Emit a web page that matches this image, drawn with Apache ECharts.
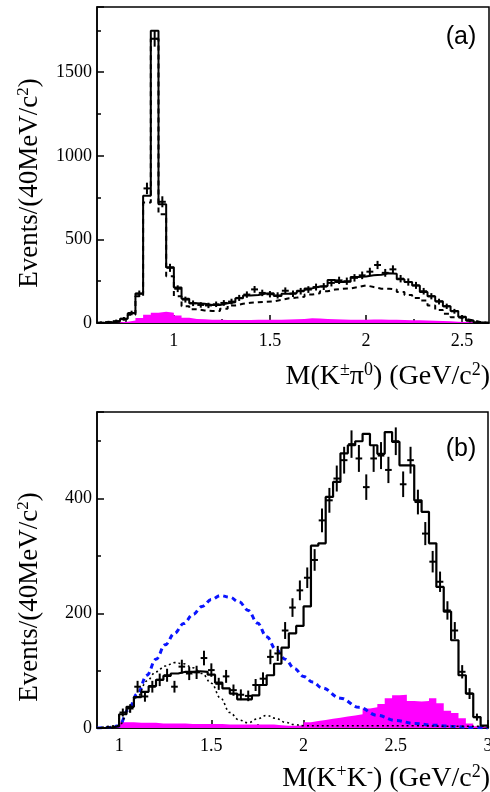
<!DOCTYPE html>
<html>
<head>
<meta charset="utf-8">
<script src="https://cdn.jsdelivr.net/npm/echarts@6.0.0/dist/echarts.min.js"></script>
<style>html,body{margin:0;padding:0;background:#fff}#c{width:490px;height:792px}</style>
</head>
<body>
<div id="c"></div>
<script>
// ---------- Panel (a): M(K± pi0), 40 MeV bins ----------
const centersA = [0.62,0.66,0.70,0.74,0.78,0.82,0.86,0.90,0.94,0.98,
  1.02,1.06,1.10,1.14,1.18,1.22,1.26,1.30,1.34,1.38,
  1.42,1.46,1.50,1.54,1.58,1.62,1.66,1.70,1.74,1.78,
  1.82,1.86,1.90,1.94,1.98,2.02,2.06,2.10,2.14,2.18,
  2.22,2.26,2.30,2.34,2.38,2.42,2.46,2.50,2.54,2.58,2.62];
const histA = [2,5,10,26,58,177,761,1748,710,333,
  212,145,118,115,108,108,118,124,148,165,
  167,176,178,162,175,180,193,207,218,222,
  257,245,247,275,278,285,288,297,295,262,
  245,225,185,160,130,100,72,38,15,3,1];
const dashA = [2,4,9,22,50,160,720,1700,650,280,
  160,100,82,75,72,72,85,105,115,121,
  124,127,130,138,148,152,157,170,178,190,
  200,205,207,215,225,215,205,205,200,185,
  168,150,135,105,78,55,35,25,15,4,0];
const dataA = [2,5,11,25,60,175,805,1700,725,330,
  205,140,118,108,105,112,120,128,150,170,
  201,180,172,165,193,175,190,200,215,218,
  240,255,250,270,285,307,347,300,321,265,
  245,225,190,160,128,100,70,35,14,3,1];
const errA = [1.4,2.2,3.3,5,7.7,13.2,28.4,41.2,26.9,18.2,
  14.3,11.8,10.9,10.4,10.2,10.6,11,11.3,12.2,13,
  14.2,13.4,13.1,12.8,13.9,13.2,13.8,14.1,14.7,14.8,
  15.5,16,15.8,16.4,16.9,17.5,18.6,17.3,17.9,16.3,
  15.7,15,13.8,12.6,11.3,10,8.4,5.9,3.7,1.7,1];
const bkgA = [2,3,5,8,15,30,50,62,68,62,
  45,32,24,22,20,19,18,18,18,18,
  19,19,20,20,21,22,24,28,27,24,
  22,21,20,20,20,21,21,20,19,18,
  17,16,15,14,12,10,8,6,4,2,1];
const xLabelsA = [1,1.5,2,2.5];
const xMinorA = [0.75,1.25,1.75,2.25];

// ---------- Panel (b): M(K+K-), 40 MeV bins ----------
const centersB = [0.90,0.94,0.98,1.02,1.06,1.10,1.14,1.18,1.22,1.26,
  1.30,1.34,1.38,1.42,1.46,1.50,1.54,1.58,1.62,1.66,
  1.70,1.74,1.78,1.82,1.86,1.90,1.94,1.98,2.02,2.06,
  2.10,2.14,2.18,2.22,2.26,2.30,2.34,2.38,2.42,2.46,
  2.50,2.54,2.58,2.62,2.66,2.70,2.74,2.78,2.82,2.86,
  2.90,2.94,2.98];
const histB = [0,1,3,24,37,54,63,73,84,91,
  95,98,98,99,98,93,79,69,60,50,
  50,57,75,92,112,140,165,178,212,318,
  322,403,429,479,493,500,513,493,478,516,
  499,458,458,397,377,322,246,203,153,92,
  60,19,4];
const dataB = [null,null,null,27,34,72,55,72,84,92,
  72,107,95,97,122,101,77,90,66,58,
  56,75,86,124,130,170,210,240,262,293,
  362,397,435,467,495,470,420,470,475,450,
  500,425,467,394,339,290,255,205,170,98,
  60,19,null];
const errB = [0,0,0,5.2,5.8,8.5,7.4,8.5,9.2,9.6,
  8.5,10.3,9.7,9.8,11,10,8.8,9.5,8.1,7.6,
  7.5,8.7,9.3,11.1,11.4,13,14.5,15.5,16.2,17.1,
  19,19.9,20.9,21.6,22.2,21.7,20.5,21.7,21.8,21.2,
  22.4,20.6,21.6,19.8,18.4,17,16,14.3,13,9.9,
  7.7,4.4,0];
const bkgB = [0,1,3,10,10,9,9,9,8,8,
  8,8,7,7,7,7,7,6,6,6,
  6,6,6,6,5,4,4,5,10,12,
  14,16,18,20,22,24,34,36,42,52,
  57,58,47,46,47,52,43,30,26,17,
  8,3,1];
const blueX = [0.88,0.95,1.00,1.05,1.10,1.15,1.20,1.25,1.30,1.35,1.40,1.45,1.50,1.55,1.60,1.65,1.70,1.75,1.80,1.85,1.90,1.95,2.00,2.05,2.10,2.20,2.30,2.40,2.50,2.60,2.70,2.80,2.90,3.00];
const blueY = [0,1,4,32,60,92,120,145,165,182,198,212,224,231,228,220,205,183,159,137,120,104,90,80,70,52,36,22,13,8,5,3,1,0];
const dotX = [0.88,1.00,1.05,1.10,1.15,1.20,1.25,1.30,1.35,1.40,1.45,1.50,1.55,1.60,1.65,1.70,1.75,1.80,1.85,1.90,1.95,2.00,2.20,2.40,2.60,2.80,3.00];
const dotY = [0,4,28,55,82,98,108,114,112,105,95,78,52,27,14,9,16,22,17,10,6,4,4,4,4,3,3];
const xLabelsB = [1,1.5,2,2.5,3];
const xMinorB = [1.25,1.75,2.25,2.75];

const BIN = 0.04;

function stepData(centers, vals) {
  const out = [[centers[0] - BIN / 2, 0]];
  centers.forEach((c, i) => out.push([c - BIN / 2, vals[i]]));
  out.push([centers[centers.length - 1] + BIN / 2, 0]);
  return out;
}
function crossData(centers, vals, errs) {
  const out = [];
  centers.forEach((c, i) => { if (vals[i] != null) out.push([c, vals[i], errs[i]]); });
  return out;
}
function crossRender(params, api) {
  const x = api.value(0), y = api.value(1), e = api.value(2);
  const hw = 0.018;
  const p1 = api.coord([x, y - e]), p2 = api.coord([x, y + e]);
  const p3 = api.coord([x - hw, y]), p4 = api.coord([x + hw, y]);
  return {
    type: 'group',
    children: [
      { type: 'line', shape: { x1: p1[0], y1: p1[1] + 1, x2: p2[0], y2: p2[1] - 1 }, style: { stroke: '#000', lineWidth: 2 } },
      { type: 'line', shape: { x1: p3[0], y1: p3[1], x2: p4[0], y2: p4[1] }, style: { stroke: '#000', lineWidth: 2 } }
    ]
  };
}

const serif = 'Liberation Serif';
const supY = { fontFamily: serif, fontSize: 17, verticalAlign: 'top', lineHeight: 17, color: '#000' };
const nameStyleY = (pad) => ({
  fontFamily: serif, fontSize: 27, color: '#000', lineHeight: 30, padding: pad,
  rich: { s: supY }
});
const supG = { fontFamily: serif, fontSize: 18, verticalAlign: 'top', lineHeight: 18, fill: '#000' };
const mainG = { fontFamily: serif, fontSize: 28, lineHeight: 32, fill: '#000' };
const blackLine = { color: '#000', width: 1.5 };
const plain = (v) => String(v);

function xMain(grid, min, max, labels) {
  return {
    type: 'value', gridIndex: grid, min: min, max: max, position: 'bottom',
    axisLine: { show: true, lineStyle: blackLine },
    axisTick: { show: true, inside: true, length: 8, customValues: labels, lineStyle: blackLine },
    axisLabel: { customValues: labels, formatter: plain, fontFamily: serif, fontSize: 18, color: '#000', margin: 9, showMinLabel: true, showMaxLabel: true, hideOverlap: false },
    splitLine: { show: false }
  };
}
function xMinor(grid, min, max, ticks) {
  return {
    type: 'value', gridIndex: grid, min: min, max: max, position: 'bottom',
    axisLine: { show: false },
    axisTick: { show: true, inside: true, length: 4, customValues: ticks, lineStyle: blackLine },
    axisLabel: { show: false }, splitLine: { show: false }
  };
}
function yMain(grid, max, interval, pad) {
  return {
    type: 'value', gridIndex: grid, min: 0, max: max, interval: interval,
    axisLine: { show: true, lineStyle: blackLine },
    axisTick: { show: true, inside: true, length: 7, lineStyle: blackLine },
    minorTick: { show: true, splitNumber: 2, length: 4, lineStyle: blackLine },
    axisLabel: { formatter: plain, fontFamily: serif, fontSize: 18, color: '#000', margin: 5, showMaxLabel: false },
    splitLine: { show: false }, minorSplitLine: { show: false },
    name: 'Events/(40MeV/c{s|2})', nameLocation: 'middle', nameRotate: 90, nameGap: 52,
    nameTextStyle: nameStyleY(pad)
  };
}
function axisTitle(text, y) {
  return { type: 'text', x: 490, y: y, z: 10,
    style: { text: text, fontFamily: serif, fontSize: 28, lineHeight: 32, fill: '#000', align: 'right', verticalAlign: 'middle',
      rich: { s: supG, m: mainG } } };
}

const chart = echarts.init(document.getElementById('c'), null, { renderer: 'canvas' });
chart.setOption({
  animation: false,
  backgroundColor: '#fff',
  grid: [
    { left: 97, top: 7, width: 392, height: 316, show: true, borderColor: '#000', borderWidth: 1.5, containLabel: false, outerBoundsMode: 'none' },
    { left: 97, top: 412, width: 391, height: 316, show: true, borderColor: '#000', borderWidth: 1.5, containLabel: false, outerBoundsMode: 'none' }
  ],
  xAxis: [
    xMain(0, 0.6, 2.64, xLabelsA),
    xMinor(0, 0.6, 2.64, xMinorA),
    xMain(1, 0.88, 3.0, xLabelsB),
    xMinor(1, 0.88, 3.0, xMinorB)
  ],
  yAxis: [
    yMain(0, 1890, 500, [0, 36, 0, 0]),
    yMain(1, 551, 200, [0, 54, 0, 0])
  ],
  graphic: [
    { type: 'text', x: 461, y: 37, style: { text: '(a)', fontFamily: 'Liberation Sans', fontSize: 25, fill: '#000', align: 'center', verticalAlign: 'middle' } },
    { type: 'text', x: 461, y: 449, style: { text: '(b)', fontFamily: 'Liberation Sans', fontSize: 25, fill: '#000', align: 'center', verticalAlign: 'middle' } },
    axisTitle('{m|M(K}{s|±}{m|π}{s|0}{m|) (GeV/c}{s|2}{m|)}', 377),
    axisTitle('{m|M(K}{s|+}{m|K}{s|-}{m|) (GeV/c}{s|2}{m|)}', 779)
  ],
  series: [
    // panel (a)
    { type: 'line', xAxisIndex: 0, yAxisIndex: 0, step: 'end', data: stepData(centersA, bkgA), showSymbol: false,
      lineStyle: { width: 0 }, areaStyle: { color: '#ff00ff', opacity: 1 }, z: 1 },
    { type: 'line', xAxisIndex: 0, yAxisIndex: 0, step: 'end', data: stepData(centersA, dashA), showSymbol: false,
      lineStyle: { color: '#000', width: 2, type: [5, 4] }, z: 2 },
    { type: 'line', xAxisIndex: 0, yAxisIndex: 0, step: 'end', data: stepData(centersA, histA), showSymbol: false,
      lineStyle: { color: '#000', width: 2 }, z: 3 },
    { type: 'custom', xAxisIndex: 0, yAxisIndex: 0, data: crossData(centersA, dataA, errA), renderItem: crossRender,
      encode: { x: 0, y: 1 }, z: 4 },
    // panel (b)
    { type: 'line', xAxisIndex: 2, yAxisIndex: 1, step: 'end', data: stepData(centersB, bkgB), showSymbol: false,
      lineStyle: { width: 0 }, areaStyle: { color: '#ff00ff', opacity: 1 }, z: 1 },
    { type: 'line', xAxisIndex: 2, yAxisIndex: 1, smooth: 0.4, smoothMonotone: 'x', data: blueX.map((x, i) => [x, blueY[i]]), showSymbol: false,
      lineStyle: { color: '#0a14ff', width: 3, type: [5, 4] }, z: 2 },
    { type: 'line', xAxisIndex: 2, yAxisIndex: 1, smooth: 0.4, smoothMonotone: 'x', data: dotX.map((x, i) => [x, dotY[i]]), showSymbol: false,
      lineStyle: { color: '#000', width: 1.6, type: [2, 3] }, z: 2 },
    { type: 'line', xAxisIndex: 2, yAxisIndex: 1, step: 'end', data: stepData(centersB, histB), showSymbol: false,
      lineStyle: { color: '#000', width: 2.2 }, z: 3 },
    { type: 'custom', xAxisIndex: 2, yAxisIndex: 1, data: crossData(centersB, dataB, errB), renderItem: crossRender,
      encode: { x: 0, y: 1 }, z: 4 }
  ]
});
</script>
</body>
</html>
